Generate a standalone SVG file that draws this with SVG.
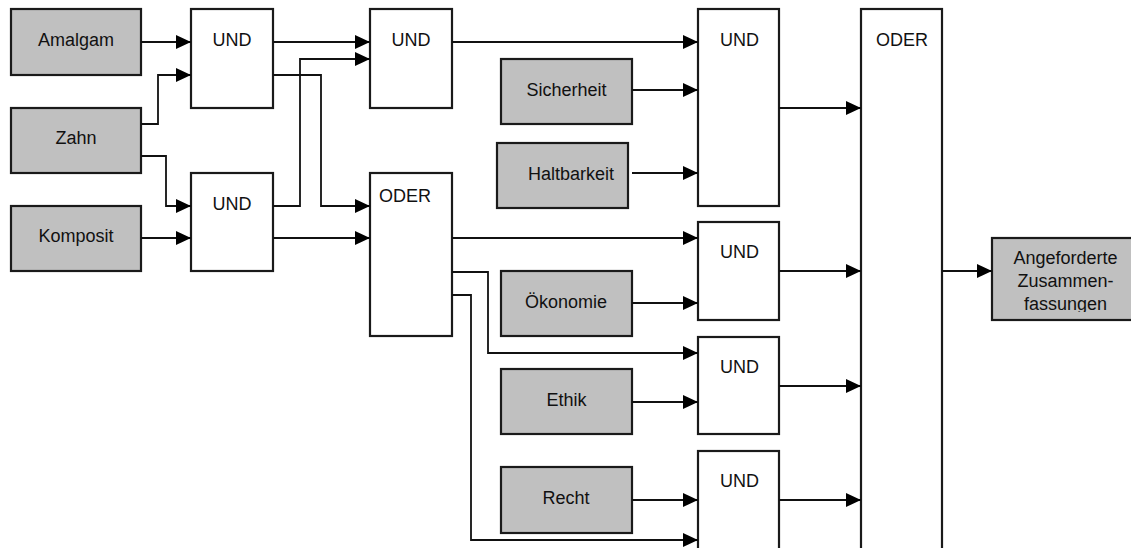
<svg xmlns="http://www.w3.org/2000/svg" width="1131" height="548" viewBox="0 0 1131 548">
<style>
.g{fill:#c0c0c0;stroke:#1a1a1a;stroke-width:2.2}
.w{fill:#fff;stroke:#1a1a1a;stroke-width:2.2}
text{font-family:"Liberation Sans",Arial,sans-serif;font-size:18px;fill:#111;text-anchor:middle}
.c path{fill:none;stroke:#111;stroke-width:1.8;marker-end:url(#a)}
</style>
<defs>
<marker id="a" markerUnits="userSpaceOnUse" markerWidth="15" markerHeight="14" refX="15" refY="7" orient="auto"><path d="M0,0 L15,7 L0,14 z" fill="#000"/></marker>
<clipPath id="cl"><rect x="992" y="238" width="150" height="74"/></clipPath>
</defs>
<rect width="1131" height="548" fill="#fff"/>
<g id="amalgam"><rect class="g" x="11" y="9" width="130" height="66"/><text x="76" y="46">Amalgam</text></g>
<g id="zahn"><rect class="g" x="11" y="108" width="130" height="65"/><text x="76" y="144">Zahn</text></g>
<g id="komposit"><rect class="g" x="11" y="206" width="130" height="65"/><text x="76" y="242">Komposit</text></g>
<g id="sicherheit"><rect class="g" x="501" y="59" width="131" height="65"/><text x="566.5" y="96">Sicherheit</text></g>
<g id="haltbarkeit"><rect class="g" x="497" y="143" width="131" height="65"/><text x="571" y="180">Haltbarkeit</text></g>
<g id="oekonomie"><rect class="g" x="501" y="271" width="131" height="65"/><text x="566" y="308">Ökonomie</text></g>
<g id="ethik"><rect class="g" x="501" y="369" width="131" height="65"/><text x="566.5" y="406">Ethik</text></g>
<g id="recht"><rect class="g" x="501" y="467" width="131" height="66"/><text x="566" y="504">Recht</text></g>
<g id="ergebnis"><rect class="g" x="992" y="238" width="150" height="82"/><g clip-path="url(#cl)"><text x="1065.5" y="264">Angeforderte</text><text x="1065.5" y="287">Zusammen-</text><text x="1065.5" y="310">fassungen</text></g></g>
<g id="und1"><rect class="w" x="191" y="9" width="82" height="99"/><text x="232" y="46">UND</text></g>
<g id="und2"><rect class="w" x="191" y="173" width="82" height="98"/><text x="232" y="210">UND</text></g>
<g id="und3"><rect class="w" x="370" y="9" width="82" height="99"/><text x="411" y="46">UND</text></g>
<g id="oder1"><rect class="w" x="370" y="173" width="82" height="163"/><text x="379" y="202" style="text-anchor:start">ODER</text></g>
<g id="und4"><rect class="w" x="698" y="9" width="81" height="197"/><text x="739.5" y="46">UND</text></g>
<g id="und5"><rect class="w" x="698" y="222" width="81" height="98"/><text x="739.5" y="258">UND</text></g>
<g id="und6"><rect class="w" x="698" y="337" width="81" height="97"/><text x="739.5" y="373">UND</text></g>
<g id="und7"><rect class="w" x="698" y="451" width="81" height="120"/><text x="739.5" y="487">UND</text></g>
<g id="oder2"><rect class="w" x="861" y="9" width="81" height="580"/><text x="902" y="46">ODER</text></g>
<g class="c" id="connectors">
<path d="M141,42 H191"/>
<path d="M141,124 H158 V75 H191"/>
<path d="M141,156 H166 V206 H191"/>
<path d="M141,238 H191"/>
<path d="M273,42 H370"/>
<path d="M273,75 H321 V206 H370"/>
<path d="M273,206 H300 V59 H370"/>
<path d="M273,238 H370"/>
<path d="M452,42 H698"/>
<path d="M632,90 H698"/>
<path d="M632,173 H698"/>
<path d="M452,238 H698"/>
<path d="M632,303 H698"/>
<path d="M452,272 H488 V353 H698"/>
<path d="M632,402 H698"/>
<path d="M452,295 H471 V540 H698"/>
<path d="M632,500 H698"/>
<path d="M779,108 H861"/>
<path d="M779,271 H861"/>
<path d="M779,386 H861"/>
<path d="M779,500 H861"/>
<path d="M942,271 H992"/>
</g>
</svg>
